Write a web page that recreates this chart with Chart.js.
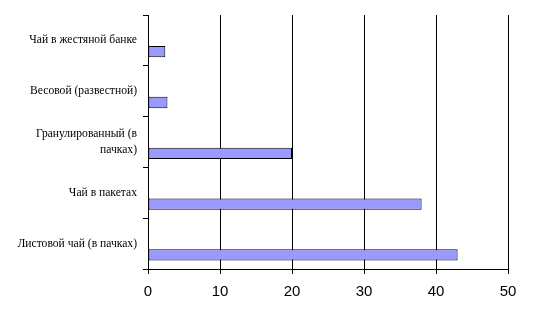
<!DOCTYPE html>
<html>
<head>
<meta charset="utf-8">
<script src="https://cdn.jsdelivr.net/npm/chart.js@4"></script>
<style>
  html, body { margin: 0; padding: 0; background: #fff; }
  #wrap { width: 535px; height: 324px; }
</style>
</head>
<body>
<div id="wrap"><canvas id="teaChart"></canvas></div>
<script>
const categories = [
  'Чай в жестяной банке',
  'Весовой (развестной)',
  ['Гранулированный (в', 'пачках)'],
  'Чай в пакетах',
  'Листовой чай (в пачках)'
];
const values = [2.4, 2.7, 20, 38, 43];
const emptySeries = [];
const xTicks = [0, 10, 20, 30, 40, 50];

// Excel-style clustered layout: two empty series keep the bar at the bottom of its band
const ctx = document.getElementById('teaChart').getContext('2d');
new Chart(ctx, {
  type: 'bar',
  data: {
    labels: categories,
    datasets: [
      {data: emptySeries},
      {data: emptySeries},
      {
        data: values,
        backgroundColor: '#9999FF',
        borderColor: '#000',
        borderWidth: 1,
        borderSkipped: false
      }
    ]
  },
  options: {
    indexAxis: 'y',
    responsive: true,
    maintainAspectRatio: false,
    animation: false,
    categoryPercentage: 3 / 4.5,
    barPercentage: 1,
    layout: {padding: {top: 15, right: 27, left: 0, bottom: 0}},
    plugins: {legend: {display: false}, tooltip: {enabled: false}},
    scales: {
      x: {
        min: xTicks[0],
        max: xTicks[xTicks.length - 1],
        afterBuildTicks: (scale) => {
          scale.ticks = xTicks.map(v => ({value: v}));
        },
        afterFit: (scale) => { scale.height = 55; },
        border: {color: '#000', width: 1},
        grid: {color: '#000', lineWidth: 1, tickLength: 5, tickColor: '#000'},
        ticks: {
          color: '#000',
          padding: 9,
          font: {family: 'Liberation Sans', size: 15}
        }
      },
      y: {
        afterFit: (scale) => { scale.width = 148; },
        border: {color: '#000', width: 1},
        grid: {offset: true, drawOnChartArea: false, tickLength: 5, tickColor: '#000'},
        ticks: {
          color: '#000',
          padding: 6,
          font: {family: 'Liberation Serif', size: 11.6, lineHeight: 1.35}
        }
      }
    }
  }
});
</script>
</body>
</html>
